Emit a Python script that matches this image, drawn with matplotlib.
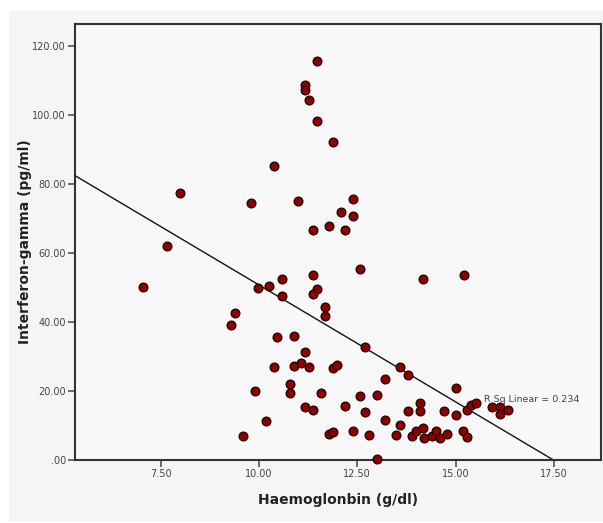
import numpy as np
import matplotlib
matplotlib.use('Agg')
import matplotlib.pyplot as plt
from matplotlib.patches import Rectangle

# Haemoglobin (g/dl) vs Interferon-gamma (pg/ml)
hb = [11.48, 11.17, 11.17, 11.28, 11.48, 11.88, 10.37, 7.98, 9.79, 10.98,
      12.39, 12.09, 12.39, 11.79, 11.38, 12.19, 7.67, 12.58, 14.18, 15.21,
      7.06, 9.97, 10.26, 10.58, 10.58, 11.38, 11.48, 11.38, 11.68, 11.68,
      9.38, 9.28, 10.47, 10.88, 11.17, 12.70, 10.37, 10.88, 11.08, 11.28,
      11.88, 11.98, 13.59, 13.79, 13.20, 15.00, 9.89, 10.78, 10.78, 11.58,
      12.58, 13.00, 11.17, 11.38, 12.19, 12.70, 13.79, 14.09, 14.09, 14.70,
      15.00, 15.30, 15.40, 15.52, 15.92, 16.12, 16.12, 16.33, 10.17, 13.20,
      13.59, 9.59, 11.79, 11.88, 12.39, 12.79, 13.49, 13.89, 14.00, 14.18,
      14.19, 14.40, 14.50, 14.60, 14.79, 15.20, 15.30, 13.00]
ifn = [115.6, 108.5, 107.2, 104.2, 98.3, 92.1, 85.2, 77.3, 74.4, 74.9,
       75.7, 71.7, 70.6, 67.9, 66.6, 66.7, 62.1, 55.3, 52.4, 53.7,
       50.2, 49.7, 50.4, 52.5, 47.6, 53.7, 49.4, 48.0, 44.2, 41.8,
       42.6, 39.2, 35.5, 35.8, 31.2, 32.6, 27.0, 27.3, 28.1, 26.8,
       26.7, 27.4, 26.8, 24.7, 23.4, 21.0, 19.9, 22.1, 19.3, 19.3,
       18.4, 18.9, 15.3, 14.5, 15.6, 14.0, 14.3, 16.6, 14.3, 14.2,
       13.0, 14.5, 15.9, 16.6, 15.4, 15.4, 13.2, 14.6, 11.2, 11.7,
       10.0, 7.0, 7.5, 8.2, 8.5, 7.2, 7.1, 6.9, 8.4, 9.4,
       6.5, 7.0, 8.4, 6.4, 7.4, 8.5, 6.7, 0.3]

# fit line as shown in the chart
fit_intercept = 118.4
fit_slope = -6.77
r2_label = 'R Sq Linear = 0.234'

xticks = [7.5, 10.0, 12.5, 15.0, 17.5]
yticks = [0, 20, 40, 60, 80, 100, 120]

bg = '#f5f5f5'
fig = plt.figure(figsize=(6.03, 5.23), dpi=100, facecolor='white')
fig.patches.append(Rectangle((9/603, 2/523), 1 - 9/603, 1 - 13/523,
                             transform=fig.transFigure, facecolor=bg,
                             edgecolor='none', zorder=-10))
ax = fig.add_axes([75/603, 1 - 460/523, 526/603, 436/523])
ax.set_facecolor('#f8f8f8')

xmin, xmax = 5.32, 18.7
ax.set_xlim(xmin, xmax)
ax.set_ylim(0, 126.3)

xs = np.array([xmin, -fit_intercept / fit_slope])
ax.plot(xs, fit_intercept + fit_slope * xs, color='#111111', lw=1.0, zorder=2)

ax.scatter(hb, ifn, s=40, color='#8b0000', edgecolors='#220000',
           linewidths=0.9, zorder=3, clip_on=False)

ax.text(15.72, 17.4, r2_label, fontsize=6.8, color='#444444', va='center',
        ha='left', zorder=4)

ax.set_xticks(xticks)
ax.set_xticklabels(['%.2f' % v for v in xticks])
ax.set_yticks(yticks)
ax.set_yticklabels(['.00' if v == 0 else '%.2f' % v for v in yticks])
ax.tick_params(direction='out', length=5, width=1.1, color='#444444',
               labelsize=7, labelcolor='#444444', pad=1.5)

for s in ax.spines.values():
    s.set_color('#333333')
    s.set_linewidth(1.5)

ax.set_xlabel('Haemoglonbin (g/dl)', fontsize=10, fontweight='bold',
              color='#222222')
ax.set_ylabel('Interferon-gamma (pg/ml)', fontsize=10, fontweight='bold',
              color='#222222')
ax.xaxis.set_label_coords(0.5, -0.076)
ax.yaxis.set_label_coords(-0.082, 0.5)

fig.savefig('out.png', dpi=100, facecolor=fig.get_facecolor())
